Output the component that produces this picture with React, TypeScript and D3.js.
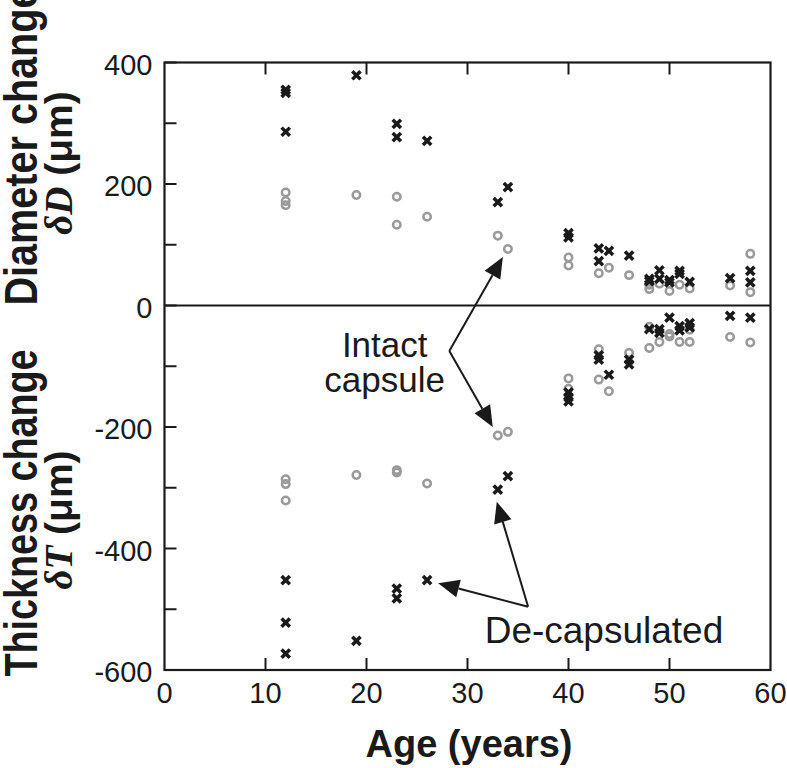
import React from "react";
import * as d3 from "d3";

// [age, change in µm]
const diameterIntact: [number, number][] = [
  [12, 186], [12, 172], [12, 165], [19, 182], [23, 179], [23, 133], [26, 146],
  [33, 115], [34, 93], [40, 79], [40, 66], [43, 53], [44, 62], [46, 50],
  [48, 34], [48, 27], [49, 36], [50, 24], [51, 34], [52, 28], [56, 33],
  [58, 85], [58, 22],
];
const diameterDecap: [number, number][] = [
  [12, 355], [12, 350], [12, 286], [19, 379], [23, 299], [23, 277], [26, 271],
  [33, 170], [34, 195], [40, 119], [40, 112], [43, 94], [43, 73], [44, 90],
  [46, 82], [48, 44], [48, 40], [49, 58], [49, 44], [50, 42], [50, 38],
  [51, 57], [51, 52], [52, 39], [56, 45], [58, 57], [58, 38],
];
const thicknessIntact: [number, number][] = [
  [12, -286], [12, -294], [12, -321], [19, -279], [23, -271], [23, -275],
  [26, -293], [33, -214], [34, -208], [40, -120], [40, -137], [43, -72],
  [43, -122], [44, -141], [46, -78], [48, -35], [48, -70], [49, -60],
  [50, -47], [50, -51], [51, -60], [52, -40], [52, -60], [56, -52], [58, -61],
];
const thicknessDecap: [number, number][] = [
  [12, -452], [12, -522], [12, -573], [19, -552], [23, -466], [23, -482],
  [26, -452], [33, -303], [34, -281], [40, -143], [40, -151], [40, -158],
  [43, -82], [43, -89], [44, -114], [46, -89], [46, -97], [48, -39],
  [49, -39], [49, -45], [50, -20], [51, -34], [51, -41], [52, -29], [52, -36],
  [56, -17], [58, -20],
];

const xTicks = [0, 10, 20, 30, 40, 50, 60];
const yMajor = [-600, -400, -200, 0, 200, 400];
const yMinor = [-500, -300, -100, 100, 300];

const SANS = "'Liberation Sans', Arial, sans-serif";
const SERIF = "'Liberation Serif', 'Times New Roman', serif";
const INK = "#1a1a1a";
const GREY = "#9a9a9a";

function Arrow({ from, to }: { from: [number, number]; to: [number, number] }) {
  const dx = to[0] - from[0];
  const dy = to[1] - from[1];
  const len = Math.hypot(dx, dy);
  const ux = dx / len, uy = dy / len;
  const L = 21, w = 9;
  const bx = to[0] - ux * L, by = to[1] - uy * L;
  const head = [
    [to[0], to[1]],
    [bx - uy * w, by + ux * w],
    [bx + uy * w, by - ux * w],
  ];
  return (
    <g>
      <line x1={from[0]} y1={from[1]} x2={bx} y2={by} stroke={INK} strokeWidth={2} />
      <polygon points={head.map((p) => p.join(",")).join(" ")} fill={INK} />
    </g>
  );
}

export default function App() {
  const width = 787;
  const height = 768;
  const x = d3.scaleLinear().domain([0, 60]).range([164.5, 770.5]);
  const y = d3.scaleLinear().domain([-600, 400]).range([670, 62.5]);

  const cross = d3.symbol(d3.symbolX, 46)() as string;
  const ring = d3.symbol(d3.symbolCircle, 44)() as string;

  const [x0, x1] = x.range();
  const [yb, yt] = y.range();
  const tickLen = 12;

  const P = (a: number, v: number): [number, number] => [x(a), y(v)];

  return (
    <div style={{ position: "absolute", left: 0, top: 0 }}>
      <svg width={width} height={height} style={{ display: "block", background: "#fff" }}>
        {/* circles: intact capsule */}
        {[...diameterIntact, ...thicknessIntact].map((d, i) => (
          <path key={"c" + i} d={ring} transform={`translate(${x(d[0])},${y(d[1])})`}
            fill="none" stroke={GREY} strokeWidth={2.5} />
        ))}
        {/* crosses: de-capsulated */}
        {[...diameterDecap, ...thicknessDecap].map((d, i) => (
          <path key={"x" + i} d={cross} transform={`translate(${x(d[0])},${y(d[1])})`}
            fill="none" stroke={INK} strokeWidth={3.5} />
        ))}

        {/* frame */}
        <rect x={x0} y={yt} width={x1 - x0} height={yb - yt} fill="none" stroke={INK} strokeWidth={2.2} />
        <line x1={x0} x2={x1} y1={y(0)} y2={y(0)} stroke={INK} strokeWidth={2.2} />

        {/* y ticks */}
        {[...yMajor, ...yMinor].map((v) => (
          <line key={"yt" + v} x1={x0} x2={x0 + tickLen} y1={y(v)} y2={y(v)} stroke={INK} strokeWidth={2} />
        ))}
        {yMajor.map((v) => (
          <text key={"yl" + v} x={x0 - 12} y={y(v) + 12} textAnchor="end" fontFamily={SANS} fontSize={29} fill={INK}>
            {v}
          </text>
        ))}

        {/* x ticks, bottom and top */}
        {xTicks.slice(1, -1).map((t) => (
          <g key={"xt" + t}>
            <line x1={x(t)} x2={x(t)} y1={yb} y2={yb - tickLen} stroke={INK} strokeWidth={2} />
            <line x1={x(t)} x2={x(t)} y1={yt} y2={yt + tickLen} stroke={INK} strokeWidth={2} />
          </g>
        ))}
        {xTicks.map((t) => (
          <text key={"xl" + t} x={x(t)} y={yb + 33} textAnchor="middle" fontFamily={SANS} fontSize={29} fill={INK}>
            {t}
          </text>
        ))}

        {/* axis titles */}
        <text x={469} y={757} textAnchor="middle" fontFamily={SANS} fontWeight="bold" fontSize={38} fill={INK}>
          Age (years)
        </text>
        <text transform={`translate(37,${(y(0) - 319 / 2).toFixed(1)}) rotate(-90)`} textAnchor="middle"
          fontFamily={SANS} fontWeight="bold" fontSize={46} fill={INK}
          textLength={319} lengthAdjust="spacingAndGlyphs">
          Diameter change
        </text>
        <text transform="translate(72,163) rotate(-90)" textAnchor="middle" fontFamily={SANS} fontWeight="bold" fontSize={39} fill={INK}>
          <tspan fontFamily={SERIF} fontStyle="italic">δD</tspan> (μm)
        </text>
        <text transform="translate(37,513) rotate(-90)" textAnchor="middle"
          fontFamily={SANS} fontWeight="bold" fontSize={46} fill={INK}
          textLength={327} lengthAdjust="spacingAndGlyphs">
          Thickness change
        </text>
        <text transform="translate(72,520) rotate(-90)" textAnchor="middle" fontFamily={SANS} fontWeight="bold" fontSize={39} fill={INK}>
          <tspan fontFamily={SERIF} fontStyle="italic">δT</tspan> (μm)
        </text>

        {/* annotations */}
        <text x={x(21.8)} y={y(-85)} textAnchor="middle" fontFamily={SANS} fontSize={35} fill={INK}>Intact</text>
        <text x={x(21.8)} y={y(-143)} textAnchor="middle" fontFamily={SANS} fontSize={35} fill={INK}>capsule</text>
        <Arrow from={P(28.2, -75)} to={P(33.5, 80)} />
        <Arrow from={P(28.2, -75)} to={P(32.5, -200)} />

        <text x={x(31.7)} y={y(-555.6)} fontFamily={SANS} fontSize={37} fill={INK}>De-capsulated</text>
        <Arrow from={P(36, -496)} to={P(32.9, -323)} />
        <Arrow from={P(36, -496)} to={P(27.1, -457)} />
      </svg>
    </div>
  );
}
